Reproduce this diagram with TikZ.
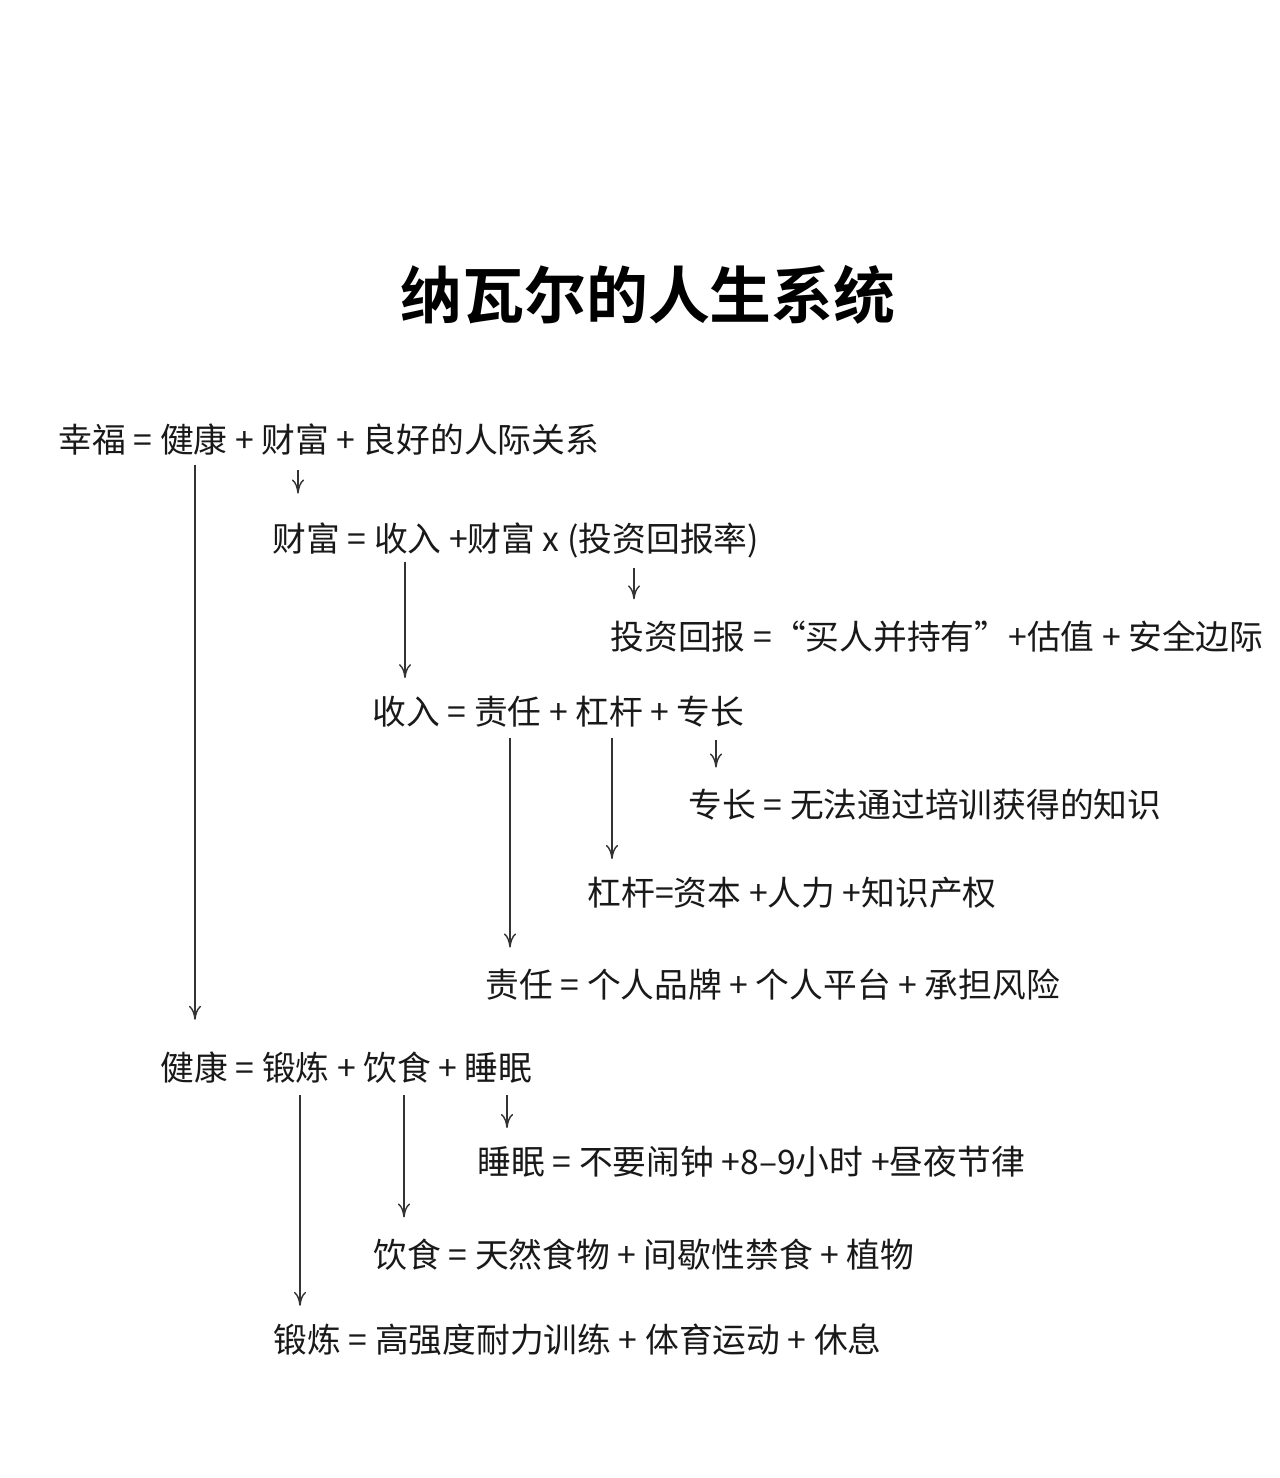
\documentclass[tikz,border=0pt]{standalone}
\usepackage{fontspec}
\setmainfont{Noto Sans CJK SC}
\newfontfamily\titlefont{Noto Sans CJK SC Bold}
\usetikzlibrary{arrows.meta}

\begin{document}
\begin{tikzpicture}[x=0.01cm,y=-0.01cm,
		eqline/.style={anchor=west, inner sep=0pt, font=\fontsize{9.6}{11}\selectfont, text=black!90},
		downarrow/.style={-{To[length=4pt,width=3.5pt]}, line width=0.4pt, black!80}]
	\useasboundingbox (0,0) rectangle (1280,1478);

	% title
	\node[inner sep=0pt, font=\titlefont\fontsize{17.6}{20}\selectfont] (title) at (648,295) {纳瓦尔的人生系统};

	% equations
	\node[eqline] (happy)   at (58,440)  {幸福 = 健康 + 财富 + 良好的人际关系};
	\node[eqline] (wealth)  at (272,540) {财富 = 收入 +财富 x (投资回报率)};
	\node[eqline] (invest)  at (610,637) {投资回报 =“买人并持有”+估值 + 安全边际};
	\node[eqline] (income)  at (372,712) {收入 = 责任 + 杠杆 + 专长};
	\node[eqline] (skill)   at (688,805) {专长 = 无法通过培训获得的知识};
	\node[eqline] (lever)   at (587,893) {杠杆=资本 +人力 +知识产权};
	\node[eqline] (duty)    at (485,985) {责任 = 个人品牌 + 个人平台 + 承担风险};
	\node[eqline] (health)  at (160,1068) {健康 = 锻炼 + 饮食 + 睡眠};
	\node[eqline] (sleep)   at (477,1162) {睡眠 = 不要闹钟 +8--9小时 +昼夜节律};
	\node[eqline] (diet)    at (373,1255) {饮食 =  天然食物 + 间歇性禁食 + 植物};
	\node[eqline] (sport)   at (273,1340) {锻炼 = 高强度耐力训练 + 体育运动 + 休息};

	% arrow starts
	\coordinate (fromHealth) at (195,465);
	\coordinate (fromWealth) at (298,470);
	\coordinate (fromIncome) at (405,562);
	\coordinate (fromInvest) at (634,568);
	\coordinate (fromDuty)   at (510,738);
	\coordinate (fromLever)  at (612,738);
	\coordinate (fromSkill)  at (716,740);
	\coordinate (fromSport)  at (300,1095);
	\coordinate (fromDiet)   at (404,1095);
	\coordinate (fromSleep)  at (507,1095);

	% arrows
	\draw[downarrow] (fromHealth) -- ([yshift=9pt]fromHealth |- health.north);
	\draw[downarrow] (fromWealth) -- ([yshift=8pt]fromWealth |- wealth.north);
	\draw[downarrow] (fromIncome) -- ([yshift=5pt]fromIncome |- income.north);
	\draw[downarrow] (fromInvest) -- ([yshift=6pt]fromInvest |- invest.north);
	\draw[downarrow] (fromDuty)   -- ([yshift=6pt]fromDuty |- duty.north);
	\draw[downarrow] (fromLever)  -- ([yshift=5pt]fromLever |- lever.north);
	\draw[downarrow] (fromSkill)  -- ([yshift=6pt]fromSkill |- skill.north);
	\draw[downarrow] (fromSport)  -- ([yshift=5pt]fromSport |- sport.north);
	\draw[downarrow] (fromDiet)   -- ([yshift=6pt]fromDiet |- diet.north);
	\draw[downarrow] (fromSleep)  -- ([yshift=5pt]fromSleep |- sleep.north);
\end{tikzpicture}
\end{document}
